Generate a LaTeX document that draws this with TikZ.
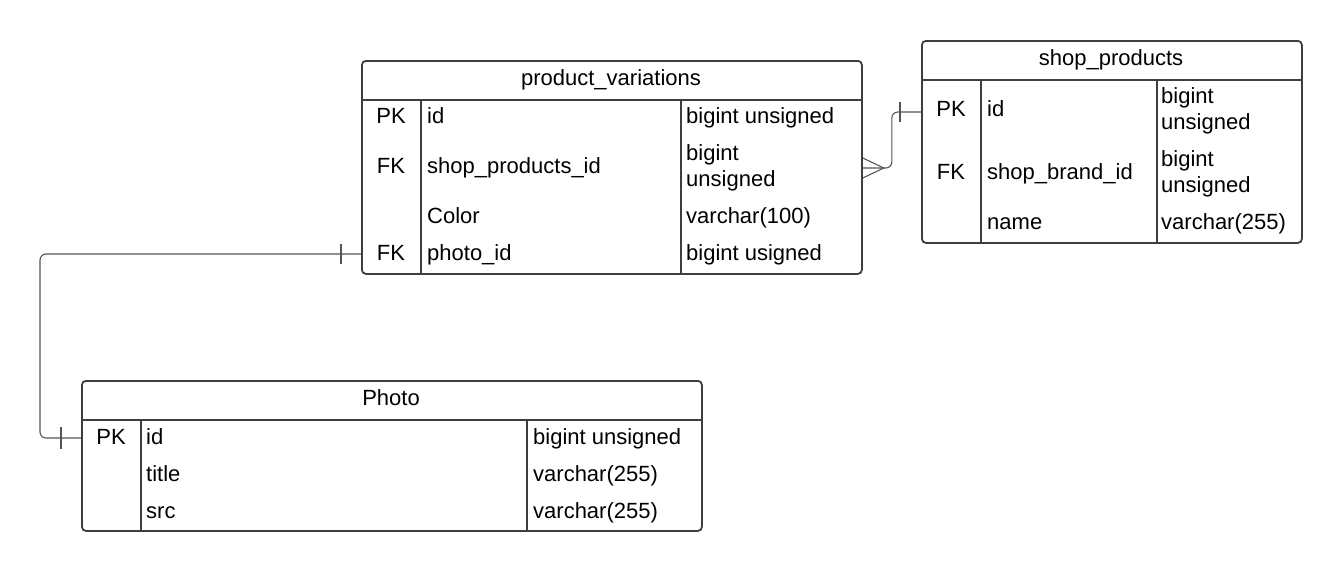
\documentclass[tikz,border=0pt]{standalone}
\usepackage{fontspec}
\setmainfont{Liberation Sans}
\usetikzlibrary{calc}
\definecolor{tblc}{HTML}{3A3F45}
\definecolor{connc}{HTML}{50555B}
\begin{document}
\begin{tikzpicture}[x=1pt,y=-1pt,
  font=\fontsize{22}{26}\selectfont,
  tbl/.style={draw=tblc, line width=1.8pt, rounded corners=4pt, inner sep=0pt, anchor=north west},
  sep/.style={draw=tblc, line width=1.8pt},
  txt/.style={anchor=base west, inner sep=0pt},
  keytxt/.style={anchor=base, inner sep=0pt},
  conn/.style={draw=connc, line width=1.1pt}]
\useasboundingbox (0,0) rectangle (1341,571);

% ---------- product_variations ----------
\node[tbl, minimum width=500pt, minimum height=213pt] (pv) at (361,60) {};
\draw[sep] (361,100) -- (861,100);
\draw[sep] (421,100) -- (421,273);
\draw[sep] (681,100) -- (681,273);
\node[inner sep=0pt, anchor=base] (pvtitle) at (611,85) {product\_variations};
\coordinate (pvr1) at (611,115);
\coordinate (pvr2) at (611,168);
\coordinate (pvr3) at (611,215);
\coordinate (pvr4) at (611,254);
\node[keytxt] (pvk1) at (391,123) {PK};
\node[txt] (pvn1) at (427,123) {id};
\node[txt] (pvt1) at (686,123) {bigint unsigned};
\node[keytxt] (pvk2) at (391,173) {FK};
\node[txt] (pvn2) at (427,173) {shop\_products\_id};
\node[txt] (pvt2a) at (686,160) {bigint};
\node[txt] (pvt2b) at (686,186) {unsigned};
\node[txt] (pvn3) at (427,223) {Color};
\node[txt] (pvt3) at (686,223) {varchar(100)};
\node[keytxt] (pvk4) at (391,260) {FK};
\node[txt] (pvn4) at (427,260) {photo\_id};
\node[txt] (pvt4) at (686,260) {bigint usigned};

% ---------- shop_products ----------
\node[tbl, minimum width=380pt, minimum height=202pt] (sp) at (921,40) {};
\draw[sep] (921,80) -- (1301,80);
\draw[sep] (981,80) -- (981,242);
\draw[sep] (1157,80) -- (1157,242);
\node[inner sep=0pt, anchor=base] (sptitle) at (1111,65) {shop\_products};
\coordinate (spr1) at (1111,112);
\coordinate (spr2) at (1111,171);
\coordinate (spr3) at (1111,221);
\node[keytxt] (spk1) at (951,116) {PK};
\node[txt] (spn1) at (987,116) {id};
\node[txt] (spt1a) at (1161,103) {bigint};
\node[txt] (spt1b) at (1161,129) {unsigned};
\node[keytxt] (spk2) at (951,179) {FK};
\node[txt] (spn2) at (987,179) {shop\_brand\_id};
\node[txt] (spt2a) at (1161,166) {bigint};
\node[txt] (spt2b) at (1161,192) {unsigned};
\node[txt] (spn3) at (987,229) {name};
\node[txt] (spt3) at (1161,229) {varchar(255)};

% ---------- Photo ----------
\node[tbl, minimum width=620pt, minimum height=150pt] (photo) at (81,380) {};
\draw[sep] (81,420) -- (701,420);
\draw[sep] (141,420) -- (141,530);
\draw[sep] (527,420) -- (527,530);
\node[inner sep=0pt, anchor=base] (phtitle) at (391,405) {Photo};
\coordinate (phr1) at (391,438);
\coordinate (phr2) at (391,473);
\coordinate (phr3) at (391,510);
\coordinate (lx) at (40,346);
\node[keytxt] (phk1) at (111,444) {PK};
\node[txt] (phn1) at (146,444) {id};
\node[txt] (pht1) at (533,444) {bigint unsigned};
\node[txt] (phn2) at (146,481) {title};
\node[txt] (pht2) at (533,481) {varchar(255)};
\node[txt] (phn3) at (146,518) {src};
\node[txt] (pht3) at (533,518) {varchar(255)};

% ---------- connectors ----------
% product_variations (many) -> shop_products (one)
\draw[conn, rounded corners=6pt] (pv.east|-pvr2) -- ++(29,0) |- (sp.west|-spr1);
\draw[conn] ($(pv.east|-pvr2)+(0,-10)$) -- ($(pv.east|-pvr2)+(21,0)$) -- ($(pv.east|-pvr2)+(0,10)$);
\draw[conn] ($(sp.west|-spr1)+(-21,-10)$) -- ($(sp.west|-spr1)+(-21,10)$);
% product_variations.photo_id (one) -> Photo.id (one)
\draw[conn, rounded corners=6pt] (pv.west|-pvr4) -| (lx) |- (photo.west|-phr1);
\draw[conn] ($(pv.west|-pvr4)+(-20,-10)$) -- ($(pv.west|-pvr4)+(-20,10)$);
\draw[conn] ($(photo.west|-phr1)+(-20,-11)$) -- ($(photo.west|-phr1)+(-20,11)$);
\end{tikzpicture}
\end{document}
